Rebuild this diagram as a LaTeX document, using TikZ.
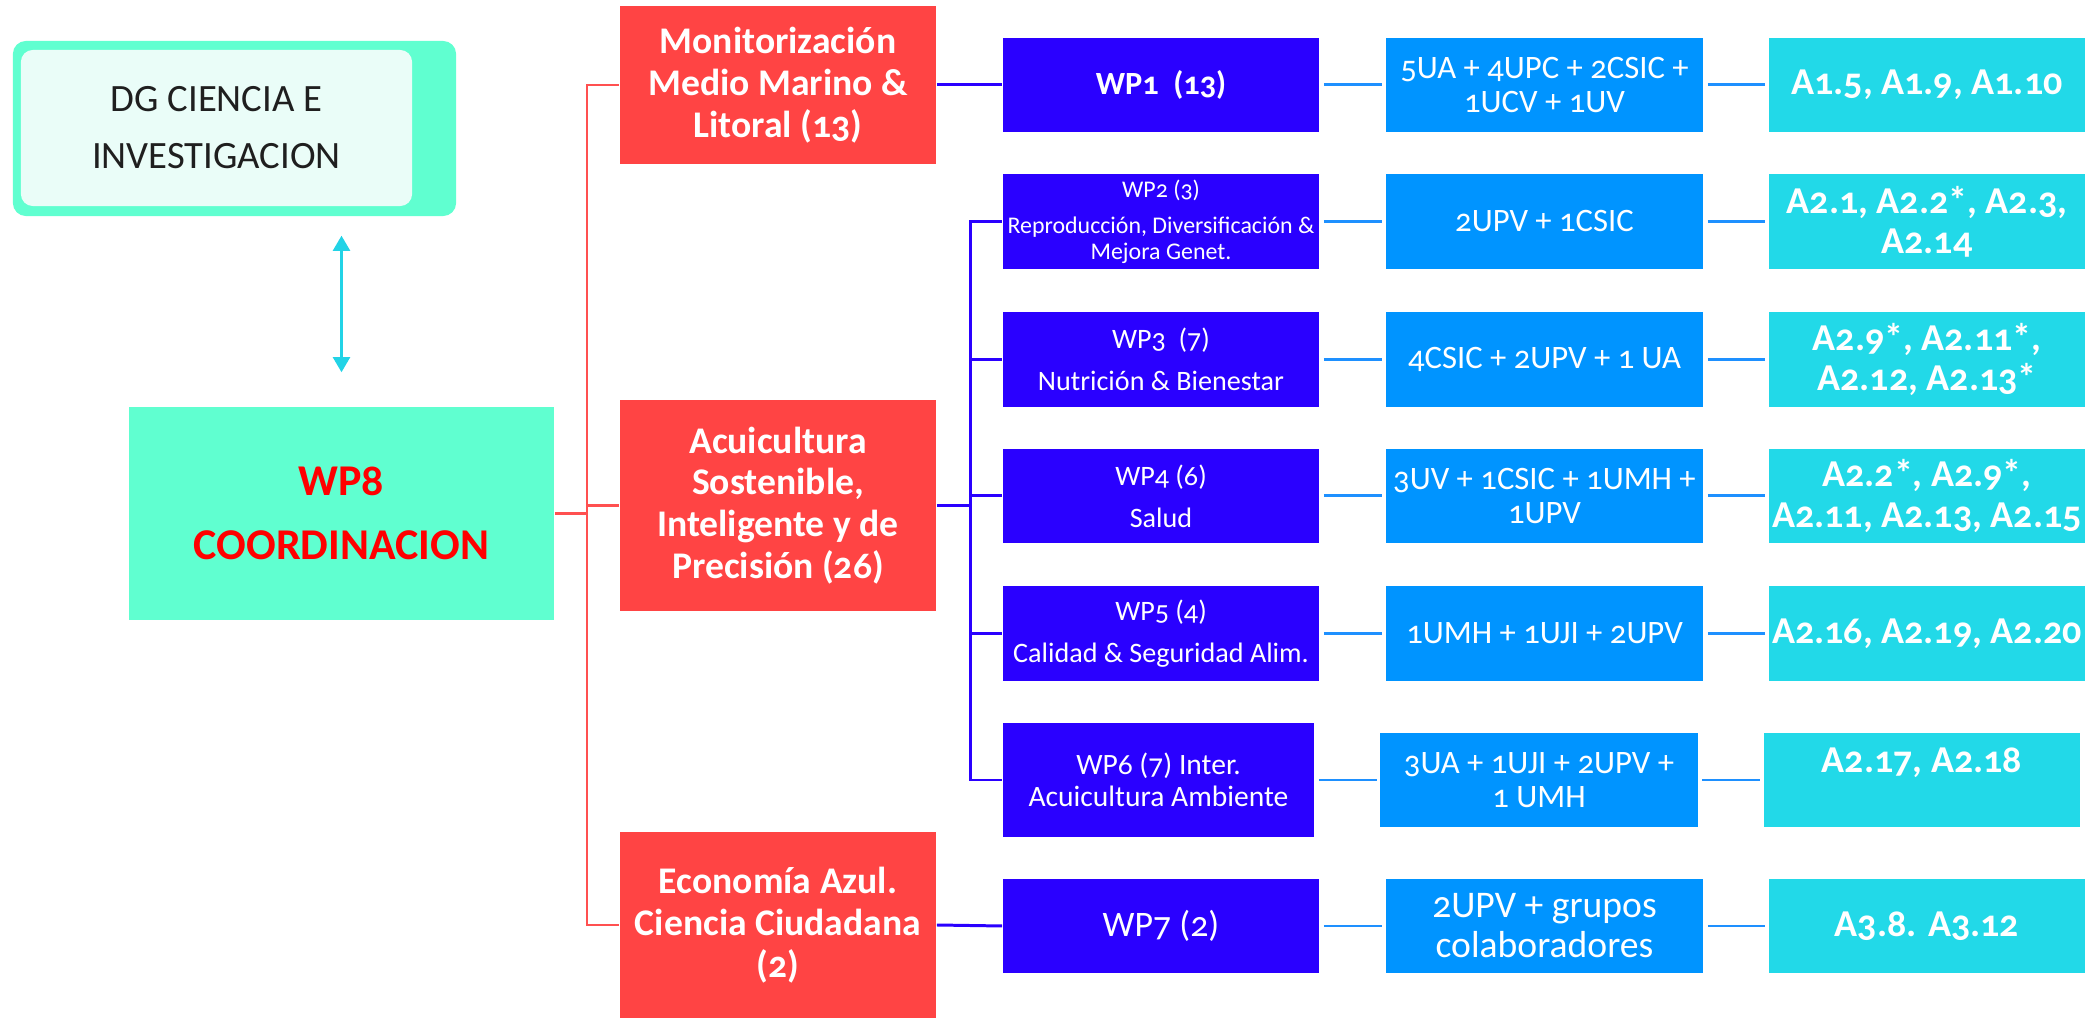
\documentclass[tikz,border=0pt]{standalone}
\usepackage{fontspec}
\setmainfont{Carlito}[Numbers=OldStyle]
\usepackage{tikz}
\usetikzlibrary{positioning, calc, arrows.meta}

\definecolor{mint}{RGB}{96,255,208}
\definecolor{mintpale}{RGB}{234,253,248}
\definecolor{eixred}{RGB}{255,68,68}
\definecolor{linkred}{RGB}{255,80,80}
\definecolor{wpblue}{RGB}{42,0,255}
\definecolor{groupblue}{RGB}{0,148,255}
\definecolor{linkblue}{RGB}{30,144,255}
\definecolor{actcyan}{RGB}{34,217,232}
\definecolor{arrowcyan}{RGB}{34,211,230}

\begin{document}
\begin{tikzpicture}[x=0.01cm, y=-0.01cm,
    every node/.style={align=center, inner sep=0pt, text=white},
    dgback/.style={rectangle, rounded corners=0.13cm, fill=mint, minimum width=4.43cm, minimum height=1.75cm},
    dgbox/.style={rectangle, rounded corners=0.12cm, fill=mintpale, minimum width=3.91cm, minimum height=1.56cm, text=black!88, font=\fontsize{11}{16.2}\selectfont},
    coordbox/.style={rectangle, fill=mint, minimum width=4.25cm, minimum height=2.13cm, text=red, font=\bfseries\fontsize{12.5}{18}\selectfont},
    eixbox/.style={rectangle, fill=eixred, minimum width=3.16cm, font=\bfseries\fontsize{10.7}{11.9}\selectfont},
    wpbox/.style={rectangle, fill=wpblue, minimum width=3.16cm, minimum height=0.94cm, font=\fontsize{8}{12}\selectfont},
    groupbox/.style={rectangle, fill=groupblue, minimum width=3.17cm, minimum height=0.94cm, font=\fontsize{9.3}{9.7}\selectfont},
    actbox/.style={rectangle, fill=actcyan, minimum width=3.16cm, minimum height=0.94cm, font=\bfseries\fontsize{10.8}{11.4}\selectfont},
    redlink/.style={draw=linkred, line width=0.75pt},
    bluelink/.style={draw=wpblue, line width=0.85pt},
    grouplink/.style={draw=linkblue, line width=0.85pt, shorten <=0.04cm, shorten >=0.03cm},
    dglink/.style={draw=arrowcyan, line width=0.6pt, {Triangle[width=0.17cm,length=0.15cm]}-{Triangle[width=0.17cm,length=0.15cm]}}]
    \useasboundingbox (0,0) rectangle (2096,1019);

    \node[dgback] (dgback) at (234.5,128.5) {};
    \node[dgbox] (dg) at (216.5,128) {DG CIENCIA E\\INVESTIGACION};
    \node[coordbox] (wp8) at (341.5,513.5) {WP8\\COORDINACION};
    \draw[dglink] ([yshift=-0.19cm]dgback.south -| wp8.north) -- ([yshift=0.34cm]wp8.north);

    \node[eixbox, minimum height=1.58cm] (marino) at (778,85) {Monitorización\\Medio Marino \&\\Litoral (13)};
    \node[eixbox, minimum height=2.11cm] (acui) at (778,505.5) {Acuicultura\\Sostenible,\\Inteligente y de\\Precisión (26)};
    \node[eixbox, minimum height=1.86cm] (azul) at (778,925) {Economía Azul.\\Ciencia Ciudadana\\(2)};

    \node[wpbox, font=\bfseries\fontsize{9.2}{11}\selectfont] (wp1) at (1161,85) {WP1~~(13)};
    \node[wpbox, font=\fontsize{6.8}{7.4}\selectfont] (wp2) at (1161,221.5) {WP2 (3)\\[2.8pt]Reproducción, Diversificación \&\\Mejora Genet.};
    \node[wpbox] (wp3) at (1161,359.5) {WP3~~(7)\\Nutrición \& Bienestar};
    \node[wpbox] (wp4) at (1161,496) {WP4 (6)\\Salud};
    \node[wpbox] (wp5) at (1161,633.5) {WP5 (4)\\Calidad \& Seguridad Alim.};
    \node[wpbox, minimum width=3.11cm, minimum height=1.14cm, font=\fontsize{8.4}{9.1}\selectfont] (wp6) at (1158.5,780) {WP6 (7) Inter.\\Acuicultura Ambiente};
    \node[wpbox, font=\fontsize{10.2}{12}\selectfont] (wp7) at (1161,926) {WP7 (2)};

    \node[groupbox] (g1) at (1544.5,85) {5UA + 4UPC + 2CSIC +\\1UCV + 1UV};
    \node[groupbox] (g2) at (1544.5,221.5) {2UPV + 1CSIC};
    \node[groupbox] (g3) at (1544.5,359.5) {4CSIC + 2UPV + 1 UA};
    \node[groupbox] (g4) at (1544.5,496) {3UV + 1CSIC + 1UMH +\\1UPV};
    \node[groupbox] (g5) at (1544.5,633.5) {1UMH + 1UJI + 2UPV};
    \node[groupbox] (g6) at (1539,780) {3UA + 1UJI + 2UPV +\\1 UMH};
    \node[groupbox, font=\fontsize{10.7}{11.4}\selectfont] (g7) at (1544.5,926) {2UPV + grupos\\colaboradores};

    \node[actbox] (a1) at (1927,85) {A1.5, A1.9, A1.10};
    \node[actbox] (a2) at (1927,221.5) {A2.1, A2.2*, A2.3,\\A2.14};
    \node[actbox] (a3) at (1927,359.5) {A2.9*, A2.11*,\\A2.12, A2.13*};
    \node[actbox] (a4) at (1927,496) {A2.2*, A2.9*,\\A2.11, A2.13, A2.15};
    \node[actbox] (a5) at (1927,633.5) {A2.16, A2.19, A2.20};
    \node[actbox] (a6) at (1922,780) {A2.17, A2.18\\~};
    \node[actbox] (a7) at (1927,926) {A3.8. A3.12};

    \coordinate (redjoint) at (587,513.5);
    \draw[redlink] (wp8.east) -- (redjoint);
    \draw[redlink] (redjoint) |- (marino.west);
    \draw[redlink] (redjoint) |- (acui.west);
    \draw[redlink] (redjoint) |- (azul.west);

    \coordinate (bluejoint) at (970,505.5);
    \draw[bluelink] (marino.east) -- (wp1.west);
    \draw[bluelink] (acui.east) -- (bluejoint);
    \draw[bluelink] (bluejoint) |- (wp2.west);
    \draw[bluelink] (bluejoint) |- (wp3.west);
    \draw[bluelink] (bluejoint) |- (wp4.west);
    \draw[bluelink] (bluejoint) |- (wp5.west);
    \draw[bluelink] (bluejoint) |- (wp6.west);
    \draw[bluelink] (azul.east) -- (wp7.west);

    \draw[grouplink] (wp1.east) -- (g1.west);
    \draw[grouplink] (wp2.east) -- (g2.west);
    \draw[grouplink] (wp3.east) -- (g3.west);
    \draw[grouplink] (wp4.east) -- (g4.west);
    \draw[grouplink] (wp5.east) -- (g5.west);
    \draw[grouplink] (wp6.east) -- (g6.west);
    \draw[grouplink] (wp7.east) -- (g7.west);
    \draw[grouplink] (g1.east) -- (a1.west);
    \draw[grouplink] (g2.east) -- (a2.west);
    \draw[grouplink] (g3.east) -- (a3.west);
    \draw[grouplink] (g4.east) -- (a4.west);
    \draw[grouplink] (g5.east) -- (a5.west);
    \draw[grouplink] (g6.east) -- (a6.west);
    \draw[grouplink] (g7.east) -- (a7.west);
\end{tikzpicture}
\end{document}
